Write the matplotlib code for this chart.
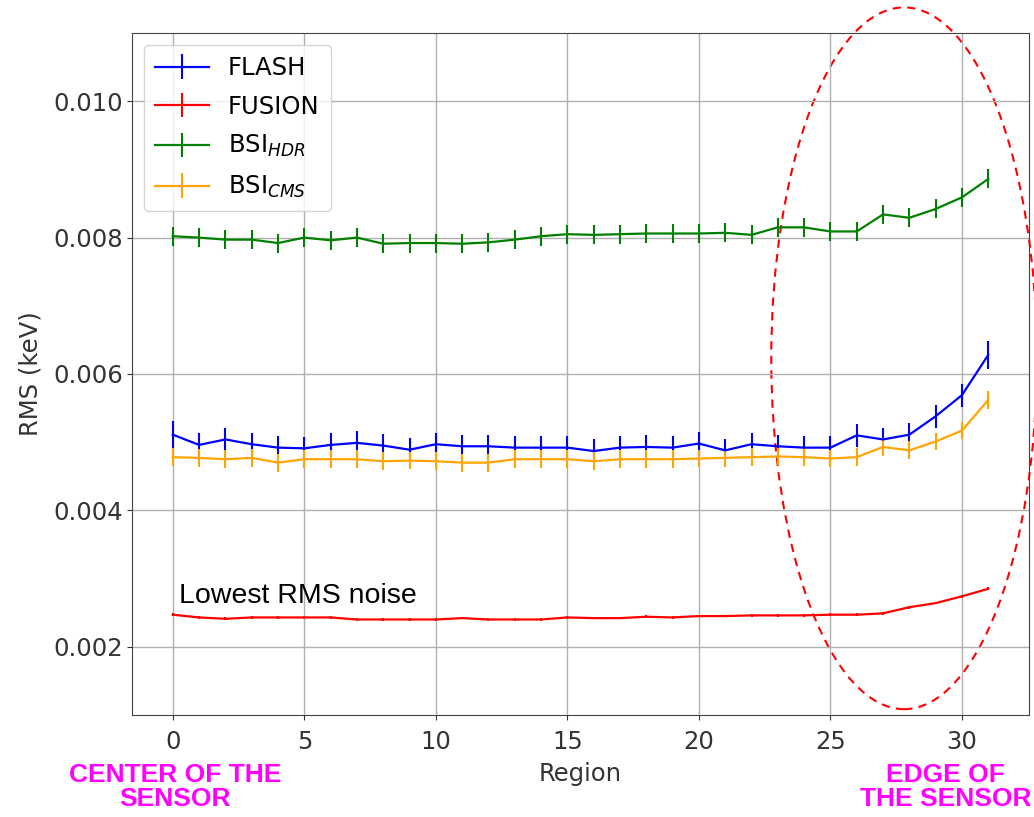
import numpy as np
import matplotlib.pyplot as plt
from matplotlib.patches import Ellipse

region = np.arange(32)

flash = [0.00511, 0.00496, 0.00504, 0.00497, 0.00492, 0.00491, 0.00496, 0.00499,
         0.00495, 0.00489, 0.00497, 0.00494, 0.00494, 0.00492, 0.00492, 0.00492,
         0.00487, 0.00492, 0.00493, 0.00492, 0.00498, 0.00488, 0.00497, 0.00494,
         0.00492, 0.00492, 0.00510, 0.00504, 0.00511, 0.00538, 0.00569, 0.00628]
flash_err = [0.00020, 0.00017, 0.00017, 0.00017, 0.00017, 0.00017, 0.00017, 0.00017,
             0.00017, 0.00017, 0.00017, 0.00017, 0.00017, 0.00017, 0.00017, 0.00017,
             0.00017, 0.00017, 0.00017, 0.00017, 0.00017, 0.00017, 0.00017, 0.00017,
             0.00017, 0.00017, 0.00017, 0.00017, 0.00017, 0.00017, 0.00017, 0.00020]

fusion = [0.00247, 0.00243, 0.00241, 0.00243, 0.00243, 0.00243, 0.00243, 0.00240,
          0.00240, 0.00240, 0.00240, 0.00242, 0.00240, 0.00240, 0.00240, 0.00243,
          0.00242, 0.00242, 0.00244, 0.00243, 0.00245, 0.00245, 0.00246, 0.00246,
          0.00246, 0.00247, 0.00247, 0.00249, 0.00258, 0.00264, 0.00274, 0.00285]
fusion_err = [0.00002] * 32

bsi_hdr = [0.00802, 0.00800, 0.00797, 0.00797, 0.00792, 0.00800, 0.00796, 0.00800,
           0.00791, 0.00792, 0.00792, 0.00791, 0.00793, 0.00797, 0.00802, 0.00805,
           0.00804, 0.00805, 0.00806, 0.00806, 0.00806, 0.00807, 0.00804, 0.00815,
           0.00815, 0.00809, 0.00809, 0.00834, 0.00829, 0.00842, 0.00859, 0.00886]
bsi_hdr_err = [0.00014] * 32

bsi_cms = [0.00478, 0.00477, 0.00475, 0.00477, 0.00470, 0.00475, 0.00475, 0.00475,
           0.00472, 0.00473, 0.00472, 0.00470, 0.00470, 0.00475, 0.00475, 0.00475,
           0.00472, 0.00475, 0.00475, 0.00475, 0.00476, 0.00477, 0.00478, 0.00479,
           0.00478, 0.00476, 0.00478, 0.00493, 0.00488, 0.00501, 0.00517, 0.00562]
bsi_cms_err = [0.00013] * 32

series = [
    (flash, flash_err, 'blue', 'FLASH'),
    (fusion, fusion_err, 'red', 'FUSION'),
    (bsi_hdr, bsi_hdr_err, 'green', r'BSI$_{HDR}$'),
    (bsi_cms, bsi_cms_err, 'orange', r'BSI$_{CMS}$'),
]

plt.rcParams['font.size'] = 17.5

fig = plt.figure(figsize=(10.34, 8.17), dpi=100)
ax = fig.add_axes([0.1277, 0.1249, 0.8675, 0.8347])

for y, err, col, lab in series:
    ax.errorbar(region, y, yerr=err, color=col, lw=1.6, elinewidth=1.5, label=lab)

ax.set_ylim(0.001, 0.011)
ax.set_yticks([0.002, 0.004, 0.006, 0.008, 0.010])
ax.set_xticks([0, 5, 10, 15, 20, 25, 30])
ax.grid(True, color='#b0b0b0', lw=1.0)
ax.set_xlabel('Region', color='#333333', labelpad=6)
ax.set_ylabel('RMS (keV)', color='#333333', labelpad=8)
ax.tick_params(axis='y', colors='#333333', pad=3)
ax.tick_params(axis='x', colors='#333333', pad=7)
for s in ax.spines.values():
    s.set_color('#444444')

ax.legend(loc='upper left', handlelength=2.2, borderpad=0.45, labelspacing=0.6)

# notes on the plot
ax.text(0.25, 0.00264, 'Lowest RMS noise', family='Liberation Sans', fontsize=20.5, color='black')

ell = Ellipse((27.8, 0.00623), width=10.1, height=0.01029, fill=False,
              ec='red', ls=(0, (4, 3)), lw=1.5, clip_on=False)
ax.add_patch(ell)

fig.text(175 / 1034, 1 - 787 / 817, 'CENTER OF THE\nSENSOR', ha='center', va='center',
         family='Liberation Sans', fontsize=19, fontweight='bold', color='magenta',
         linespacing=1.05)
fig.text(1031 / 1034, 1 - 787 / 817, 'EDGE OF\nTHE SENSOR', ha='right', va='center',
         multialignment='center',
         family='Liberation Sans', fontsize=19, fontweight='bold', color='magenta',
         linespacing=1.05)

fig.savefig('out.png', dpi=100)
